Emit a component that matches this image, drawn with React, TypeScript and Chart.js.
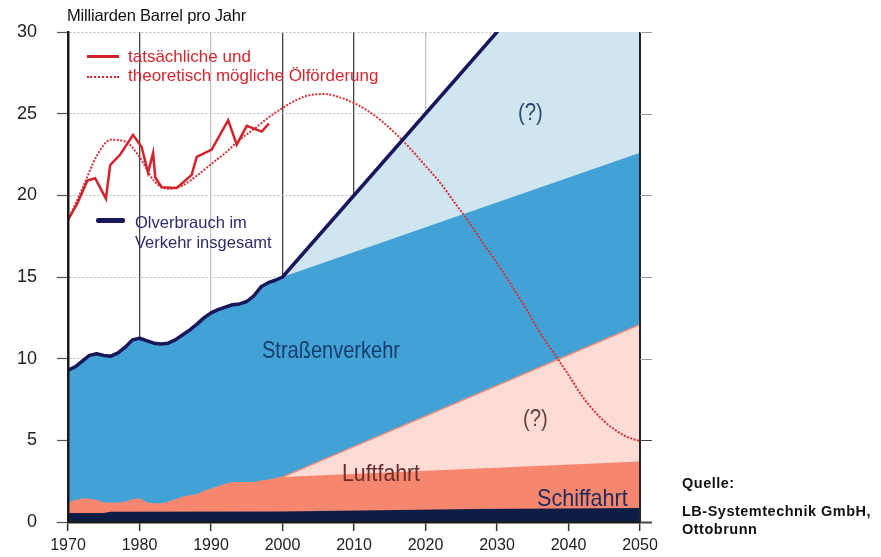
import React, { useEffect, useRef } from "react";
import { Chart, registerables } from "chart.js";

Chart.register(...registerables);

const W = 881;
const H = 557;
const FONT = '"Liberation Sans", Arial, Helvetica, sans-serif';

// ---- tick labels ----
const xTickYears = [1970, 1980, 1990, 2000, 2010, 2020, 2030, 2040, 2050];
const yTickValues = [0, 5, 10, 15, 20, 25, 30];

// ---- historical years (1970-2000) ----
const histYears = [
  1970, 1971, 1972, 1973, 1974, 1975, 1976, 1977, 1978, 1979,
  1980, 1981, 1982, 1983, 1984, 1985, 1986, 1987, 1988, 1989,
  1990, 1991, 1992, 1993, 1994, 1995, 1996, 1997, 1998, 1999, 2000,
];
// total oil use in transport (top of road area), billion barrels/yr
const totalHist = [
  9.3, 9.5, 9.85, 10.2, 10.3, 10.2, 10.15, 10.35, 10.7, 11.15,
  11.25, 11.1, 10.95, 10.9, 10.95, 11.15, 11.45, 11.75, 12.1, 12.5,
  12.8, 13.0, 13.15, 13.3, 13.35, 13.5, 13.85, 14.4, 14.65, 14.8, 15.0,
];
// top of aviation area (ship + air)
const airHist = [
  1.15, 1.3, 1.4, 1.4, 1.3, 1.15, 1.15, 1.15, 1.2, 1.35,
  1.4, 1.15, 1.1, 1.1, 1.2, 1.35, 1.5, 1.6, 1.65, 1.85,
  2.0, 2.15, 2.3, 2.4, 2.4, 2.4, 2.4, 2.5, 2.55, 2.65, 2.75,
];

// ---- projections ----
const projYears = [2050];
const roadProj = [22.6];
const airProj = [3.7];
const airUncertainProj = [12.1];
const totalProjYears = [2030];
const totalProj = [30];
const uncertainTopYears = [2030, 2050];
const uncertainTop = [30, 30];

// ---- shipping ----
const shipYears = [1970, 1975, 1976, 2000, 2027, 2050];
const shipValues = [0.55, 0.55, 0.62, 0.65, 0.8, 0.85];

// ---- actual oil production ----
const actualYears = [
  1970, 1971.3, 1972.7, 1973.8, 1975.3, 1975.9, 1977.3, 1979.1, 1980.3, 1981.2,
  1981.9, 1982.2, 1983.1, 1985.2, 1987.3, 1988, 1990.1, 1992.4, 1993.6, 1995,
  1997.1, 1998.1,
];
const actualValues = [
  18.5, 19.5, 20.9, 21.05, 19.8, 21.85, 22.5, 23.7, 22.95, 21.4,
  22.6, 21.1, 20.5, 20.45, 21.25, 22.35, 22.8, 24.6, 23.1, 24.25,
  23.9, 24.4,
];

// ---- theoretically possible oil production ----
const theoryYears = [
  1970, 1972, 1974, 1976, 1978, 1980, 1982, 1984, 1986, 1988,
  1990, 1992, 1994, 1996, 1998, 2000, 2002, 2004, 2006, 2008,
  2010, 2012, 2014, 2016, 2018, 2020, 2022, 2024, 2026, 2028,
  2030, 2032, 2034, 2036, 2038, 2040, 2042, 2044, 2046, 2048, 2050,
];
const theoryValues = [
  18.5, 20.4, 22.4, 23.4, 23.3, 22.35, 20.9, 20.4, 20.6, 21.2,
  21.9, 22.6, 23.4, 24.05, 24.75, 25.35, 25.85, 26.15, 26.2, 26.0,
  25.65, 25.15, 24.5, 23.7, 22.8, 21.8, 20.8, 19.6, 18.4, 17.1,
  15.85, 14.5, 13.1, 11.6, 10.3, 9.0, 7.65, 6.6, 5.8, 5.25, 4.95,
];

const C = {
  navyLine: "#17175a",
  red: "#d2222b",
  ship: "#0d1d45",
  air: "#f7866f",
  airQ: "#fcdcd5",
  road: "#42a2d6",
  roadQ: "#cfe5ef",
};

const pts = (xs: number[], ys: number[]) => xs.map((x, i) => ({ x, y: ys[i] }));

const xGridColors: Record<number, string> = {
  1970: "rgba(0,0,0,0)",
  1980: "#444",
  1990: "#c4c4c4",
  2000: "#444",
  2010: "#444",
  2020: "#c4c4c4",
  2030: "#444",
  2040: "#444",
  2050: "rgba(0,0,0,0)",
};

const framePlugin = {
  id: "frame",
  afterDatasetsDraw(chart: any) {
    const { ctx, chartArea, scales } = chart;
    ctx.save();
    // right border
    ctx.strokeStyle = "#222";
    ctx.lineWidth = 2;
    ctx.beginPath();
    ctx.moveTo(chartArea.right, chartArea.top);
    ctx.lineTo(chartArea.right, chartArea.bottom);
    ctx.stroke();
    // right ticks
    yTickValues.forEach((v) => {
      const y = Math.round(scales.y.getPixelForValue(v)) + 0.5;
      ctx.strokeStyle = v <= 5 ? "#444" : "#999";
      ctx.lineWidth = v === 0 ? 2 : 1;
      ctx.beginPath();
      ctx.moveTo(chartArea.right, y);
      ctx.lineTo(chartArea.right + 12, y);
      ctx.stroke();
    });
    ctx.restore();
  },
};

export default function App() {
  const ref = useRef<HTMLCanvasElement>(null);

  useEffect(() => {
    if (!ref.current) return;
    Chart.defaults.font.family = FONT;
    const fillDs = (label: string, data: any[], color: string, border?: string) => ({
      label,
      data,
      fill: "origin",
      backgroundColor: color,
      borderColor: border || "rgba(0,0,0,0)",
      borderWidth: border ? 1.5 : 0,
      pointRadius: 0,
      tension: 0,
    });
    const chart = new Chart(ref.current, {
      type: "line",
      data: {
        datasets: [
          {
            label: "Ölverbrauch im Verkehr insgesamt",
            data: pts([...histYears, ...totalProjYears], [...totalHist, ...totalProj]),
            borderColor: C.navyLine,
            borderWidth: 3.5,
            fill: false,
            pointRadius: 0,
            tension: 0,
            borderJoinStyle: "round",
            borderCapStyle: "round",
          } as any,
          {
            label: "tatsächliche Ölförderung",
            data: pts(actualYears, actualValues),
            borderColor: C.red,
            borderWidth: 2.5,
            fill: false,
            pointRadius: 0,
            tension: 0,
          },
          {
            label: "theoretisch mögliche Ölförderung",
            data: pts(theoryYears, theoryValues),
            borderColor: "#d83039",
            borderWidth: 2,
            borderDash: [2, 1.5],
            fill: false,
            pointRadius: 0,
            cubicInterpolationMode: "monotone",
          },
          fillDs("Schiffahrt", pts(shipYears, shipValues), C.ship),
          fillDs("Luftfahrt", pts([...histYears, ...projYears], [...airHist, ...airProj]), C.air),
          fillDs(
            "Luftfahrt (?)",
            pts([...histYears, ...projYears], [...airHist, ...airUncertainProj]),
            C.airQ,
            "#f38a76"
          ),
          fillDs("Straßenverkehr", pts([...histYears, ...projYears], [...totalHist, ...roadProj]), C.road),
          fillDs(
            "Straßenverkehr (?)",
            pts([...histYears, ...uncertainTopYears], [...totalHist, ...uncertainTop]),
            C.roadQ
          ),
        ],
      },
      options: {
        responsive: false,
        animation: false,
        devicePixelRatio: 1,
        layout: { padding: { top: 32, right: 241, left: 0, bottom: 0 } },
        plugins: {
          legend: { display: false },
          tooltip: { enabled: false },
        },
        elements: { point: { radius: 0 } },
        scales: {
          x: {
            type: "linear",
            min: 1970,
            max: 2050,
            afterFit: (s: any) => {
              s.height = 35;
            },
            afterBuildTicks: (s: any) => {
              s.ticks = xTickYears.map((v) => ({ value: v }));
            },
            ticks: {
              font: { size: 16, family: FONT },
              color: "#222",
              padding: 5,
              autoSkip: false,
              maxRotation: 0,
              callback: (v: any) => String(v),
            },
            grid: {
              color: (c: any) => xGridColors[c.tick?.value] || "#555",
              lineWidth: 1.3,
              tickLength: 9,
              tickColor: "#333",
              tickWidth: 1.5,
            },
            border: { display: true, color: "#1a1a1a", width: 2.5, z: 2 },
          },
          y: {
            min: 0,
            max: 30,
            afterFit: (s: any) => {
              s.width = 68;
            },
            afterBuildTicks: (s: any) => {
              s.ticks = yTickValues.map((v) => ({ value: v }));
            },
            ticks: {
              font: { size: 18, family: FONT },
              color: "#222",
              padding: 20,
            },
            grid: {
              color: "#bdbdbd",
              lineWidth: 1,
              tickLength: 11,
              tickColor: "#555",
              tickWidth: 1.2,
            },
            border: { display: true, color: "#1a1a1a", width: 2.5, z: 2, dash: [2, 2] },
          },
        },
      },
      plugins: [framePlugin],
    } as any);
    return () => chart.destroy();
  }, []);

  const abs = (extra: React.CSSProperties): React.CSSProperties => ({
    position: "absolute",
    whiteSpace: "nowrap",
    lineHeight: 1,
    margin: 0,
    ...extra,
  });

  const condensed = (
    text: string,
    left: number,
    top: number,
    size: number,
    sx: number,
    color: string
  ) => (
    <div
      style={abs({
        left,
        top,
        fontSize: size,
        color,
        transform: `scaleX(${sx})`,
        transformOrigin: "0 0",
      })}
    >
      {text}
    </div>
  );

  return (
    <div
      style={{
        position: "fixed",
        left: 0,
        top: 0,
        width: W,
        height: H,
        background: "#fff",
        fontFamily: FONT,
        overflow: "hidden",
      }}
    >
      <canvas ref={ref} width={W} height={H} style={{ position: "absolute", left: 0, top: 0, width: W, height: H }} />

      {/* axis title */}
      <div style={abs({ left: 67, top: 7, fontSize: 16.5, color: "#111", letterSpacing: -0.2 })}>
        Milliarden Barrel pro Jahr
      </div>

      {/* legend: oil production */}
      <div style={abs({ left: 87, top: 55, width: 32, height: 2.5, background: C.red })} />
      <div style={abs({ left: 128, top: 48, fontSize: 17, color: "#d4262e" })}>tatsächliche und</div>
      <div style={abs({ left: 87, top: 76, width: 32, height: 0, borderTop: "2.5px dotted #d4262e" })} />
      <div style={abs({ left: 128, top: 67, fontSize: 17, color: "#d4262e" })}>
        theoretisch mögliche Ölförderung
      </div>

      {/* legend: total consumption */}
      <div style={abs({ left: 96, top: 218, width: 29, height: 4.5, background: C.navyLine, borderRadius: 2 })} />
      <div style={abs({ left: 135, top: 213.5, fontSize: 16.5, color: "#2d2d6d" })}>Olverbrauch im</div>
      <div style={abs({ left: 135, top: 234, fontSize: 16.5, color: "#2d2d6d" })}>Verkehr insgesamt</div>

      {/* area labels */}
      {condensed("Straßenverkehr", 262, 338, 24, 0.834, "#173d6c")}
      {condensed("Luftfahrt", 342, 461, 24, 0.886, "#6b2c2c")}
      {condensed("Schiffahrt", 537, 486, 24, 0.898, "#1c2b5c")}
      {condensed("(?)", 518, 100, 24.5, 0.83, "#2a4a72")}
      {condensed("(?)", 523, 406, 24.5, 0.83, "#6a3c3c")}

      {/* source */}
      <div style={abs({ left: 682, top: 476, fontSize: 14.5, fontWeight: 700, color: "#111", letterSpacing: 0.5 })}>
        Quelle:
      </div>
      <div style={abs({ left: 682, top: 504, fontSize: 14.5, fontWeight: 700, color: "#111", letterSpacing: 0.5 })}>
        LB-Systemtechnik GmbH,
      </div>
      <div style={abs({ left: 682, top: 522, fontSize: 14.5, fontWeight: 700, color: "#111", letterSpacing: 0.5 })}>
        Ottobrunn
      </div>
    </div>
  );
}
